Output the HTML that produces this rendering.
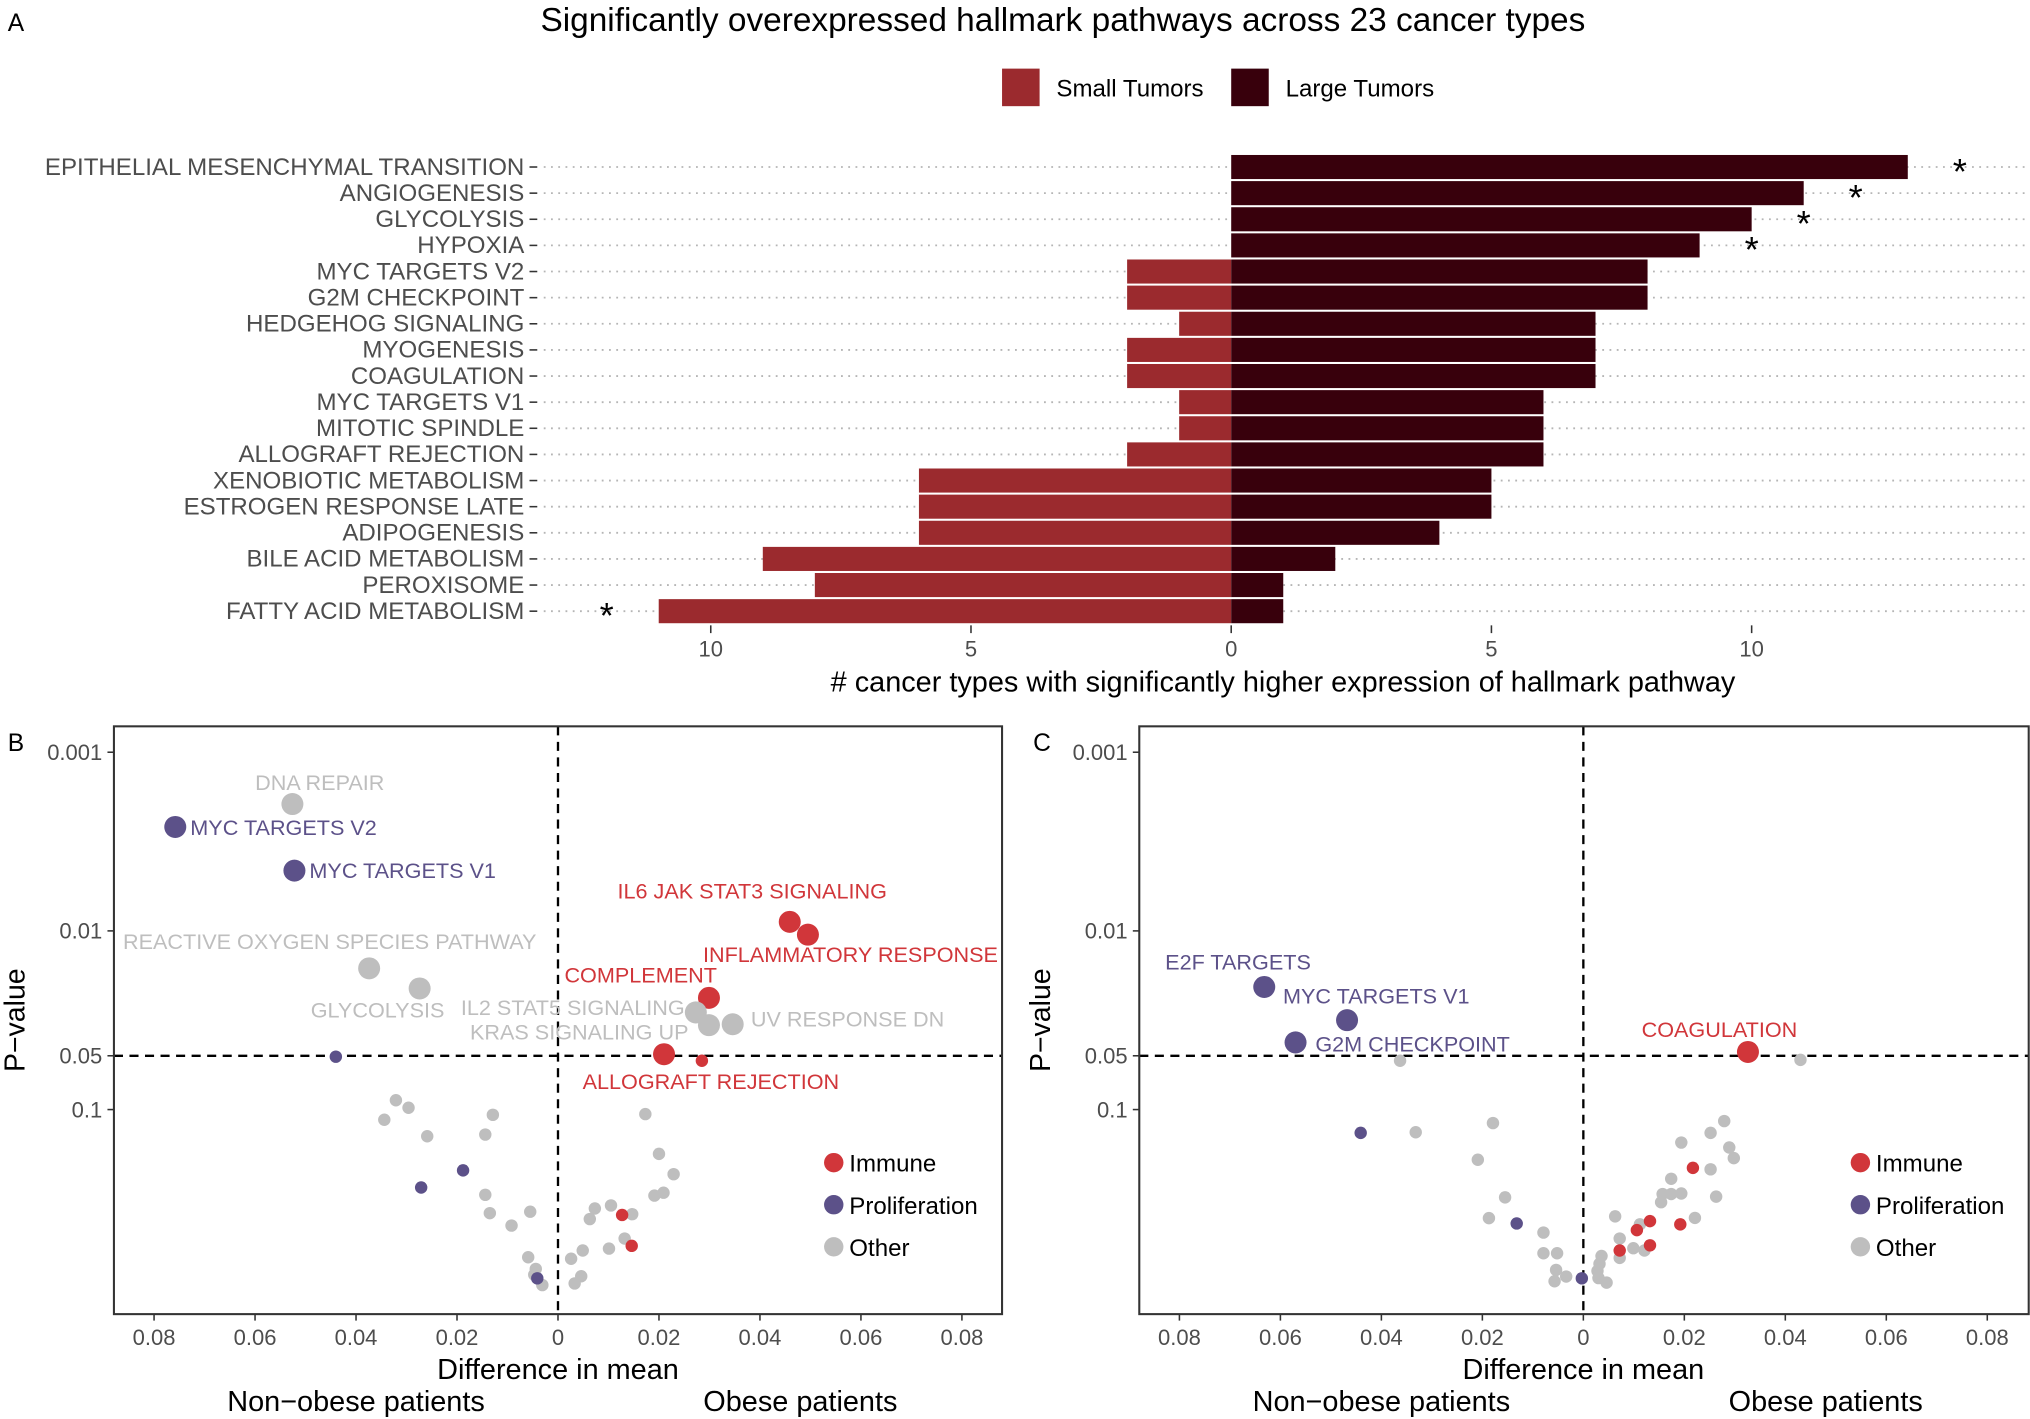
<!DOCTYPE html>
<html><head><meta charset="utf-8">
<style>
html,body{margin:0;padding:0;background:#fff;}
svg{display:block;font-family:"Liberation Sans",Arial,sans-serif;}
</style></head>
<body>
<svg id="fig" width="2030" height="1419" viewBox="0 0 1568 1096" preserveAspectRatio="none" xmlns="http://www.w3.org/2000/svg">
<rect x="0" y="0" width="1568" height="1096" fill="#fff"/>
<g id="panelA"></g>
<g id="panelB"></g>
<g id="panelC"></g>
</svg>
<script>
// ---------- Panel A data ----------
const pathways = ["EPITHELIAL MESENCHYMAL TRANSITION","ANGIOGENESIS","GLYCOLYSIS","HYPOXIA","MYC TARGETS V2","G2M CHECKPOINT","HEDGEHOG SIGNALING","MYOGENESIS","COAGULATION","MYC TARGETS V1","MITOTIC SPINDLE","ALLOGRAFT REJECTION","XENOBIOTIC METABOLISM","ESTROGEN RESPONSE LATE","ADIPOGENESIS","BILE ACID METABOLISM","PEROXISOME","FATTY ACID METABOLISM"];
const largeCounts = [13,11,10,9,8,8,7,7,7,6,6,6,5,5,4,2,1,1];
const smallCounts = [0,0,0,0,2,2,1,2,2,1,1,2,6,6,6,9,8,11];
const largeStars = [1,1,1,1,0,0,0,0,0,0,0,0,0,0,0,0,0,0];
const smallStars = [0,0,0,0,0,0,0,0,0,0,0,0,0,0,0,0,0,1];
const barTicks = [-10,-5,0,5,10];
const barTickLabels = ["10","5","0","5","10"];

// ---------- Panel B data ----------
const bNames = ["DNA REPAIR","MYC TARGETS V2","MYC TARGETS V1","REACTIVE OXYGEN SPECIES PATHWAY","GLYCOLYSIS","IL6 JAK STAT3 SIGNALING","INFLAMMATORY RESPONSE","COMPLEMENT","IL2 STAT5 SIGNALING","KRAS SIGNALING UP","UV RESPONSE DN","ALLOGRAFT REJECTION"];
const bDiff = [-0.0526,-0.0758,-0.0522,-0.0374,-0.0274,0.0459,0.0495,0.0299,0.0273,0.0299,0.0346,0.0210,
 -0.0440,0.0285,
 -0.0321,-0.0296,-0.0344,-0.0259,-0.0129,-0.0144,-0.0144,-0.0135,-0.0055,-0.0092,-0.0059,-0.0044,-0.0031,-0.0047,
 0.0173,0.0200,0.0229,0.0191,0.0209,0.0105,0.0073,0.0147,0.0063,0.0132,0.0101,0.0049,0.0026,0.0046,0.0033,
 -0.0188,-0.0271,-0.0041,0.0127,0.0146];
const bP = [0.00195,0.00262,0.0046,0.0162,0.021,0.0089,0.0105,0.0237,0.0286,0.0337,0.0333,0.049,
 0.0506,0.0533,
 0.0887,0.0977,0.114,0.141,0.107,0.138,0.300,0.380,0.373,0.446,0.671,0.78,0.96,0.84,
 0.106,0.177,0.230,0.303,0.292,0.344,0.358,0.385,0.41,0.527,0.60,0.615,0.684,0.857,0.94,
 0.219,0.273,0.88,0.389,0.579];
const bGroup = ["O","P","P","O","O","I","I","I","O","O","O","I",
 "P","I",
 "O","O","O","O","O","O","O","O","O","O","O","O","O","O",
 "O","O","O","O","O","O","O","O","O","O","O","O","O","O","O",
 "P","P","P","I","I"];

// ---------- Panel C data ----------
const cNames = ["E2F TARGETS","MYC TARGETS V1","G2M CHECKPOINT","COAGULATION"];
const cDiff = [-0.0632,-0.0468,-0.0570,0.0326,
 -0.0363,0.0430,-0.0332,-0.0179,-0.0209,-0.0155,-0.0187,-0.0079,-0.0079,-0.0052,-0.0054,-0.0034,-0.0057,
 0.0279,0.0252,0.0194,0.0289,0.0298,0.0252,0.0174,0.0157,0.0174,0.0194,0.0263,0.0154,0.0063,0.0221,0.0112,0.0072,0.0099,0.0121,0.0072,0.0036,0.0032,0.0028,0.0030,0.0046,
 -0.0441,-0.0132,-0.0003,
 0.0217,0.0132,0.0106,0.0192,0.0132,0.0072];
const cP = [0.0206,0.0316,0.0421,0.0476,
 0.0533,0.0527,0.134,0.119,0.191,0.310,0.405,0.488,0.637,0.637,0.79,0.86,0.914,
 0.116,0.135,0.153,0.163,0.187,0.216,0.244,0.297,0.297,0.295,0.307,0.330,0.396,0.404,0.439,0.527,0.597,0.615,0.676,0.66,0.73,0.80,0.877,0.93,
 0.135,0.434,0.88,
 0.212,0.421,0.473,0.439,0.575,0.615];
const cGroup = ["P","P","P","I",
 "O","O","O","O","O","O","O","O","O","O","O","O","O",
 "O","O","O","O","O","O","O","O","O","O","O","O","O","O","O","O","O","O","O","O","O","O","O","O",
 "P","P","P",
 "I","I","I","I","I","I"];

const xTicks = [-0.08,-0.06,-0.04,-0.02,0,0.02,0.04,0.06,0.08];
const xTickLabels = ["0.08","0.06","0.04","0.02","0","0.02","0.04","0.06","0.08"];
const pTicks = [0.001,0.01,0.05,0.1];
const pTickLabels = ["0.001","0.01","0.05","0.1"];
const legendGroups = ["I","P","O"];
const legendLabels = ["Immune","Proliferation","Other"];

const NS = "http://www.w3.org/2000/svg";
const COL = {I:"#d1363a",P:"#5c5189",O:"#bebebe"};
function mk(parent, tag, attrs, text){
  const e = document.createElementNS(NS, tag);
  for (const k in attrs) e.setAttribute(k, attrs[k]);
  if (text !== undefined) e.textContent = text;
  parent.appendChild(e);
  return e;
}

// ================= Panel A =================
(function(){
  const g = document.getElementById('panelA');
  const x0 = 951, unit = 40.2;
  const xA = v => x0 + v*unit;
  const rowY = i => 129 + i*20.18;
  const bh = 18.6;
  let t = mk(g,'text',{x:6,y:24,'font-size':19,fill:'#000'},'A');
   
  t = mk(g,'text',{x:821,y:24,'font-size':25.8,'text-anchor':'middle',fill:'#000'},'Significantly overexpressed hallmark pathways across 23 cancer types');
   
  // legend
  let r = mk(g,'rect',{x:774,y:53,width:29,height:29,fill:'#9b2a2e'});
   
  t = mk(g,'text',{x:816,y:74.5,'font-size':18.6,fill:'#000'},'Small Tumors');
   
  r = mk(g,'rect',{x:951,y:53,width:29,height:29,fill:'#38000c'});
   
  t = mk(g,'text',{x:993,y:74.5,'font-size':18.6,fill:'#000'},'Large Tumors');
   
  pathways.forEach((name,i)=>{
    const y = rowY(i);
    const ln = mk(g,'line',{x1:420,x2:1568,y1:y,y2:y,stroke:'#b5b5b5','stroke-width':1.4,'stroke-dasharray':'1.4 4.2'});
     
    const lab = mk(g,'text',{x:405,y:y+6,'font-size':18.6,'text-anchor':'end',fill:'#4d4d4d'},name);
     
    const tk = mk(g,'line',{x1:409,x2:415,y1:y,y2:y,stroke:'#333','stroke-width':1.2});
     
    if (smallCounts[i]>0){
      const b = mk(g,'rect',{x:xA(-smallCounts[i]),y:y-bh/2,width:xA(0)-xA(-smallCounts[i]),height:bh,fill:'#9b2a2e'});
       
    }
    if (largeCounts[i]>0){
      const b = mk(g,'rect',{x:xA(0),y:y-bh/2,width:xA(largeCounts[i])-xA(0),height:bh,fill:'#38000c'});
       
    }
    if (largeStars[i]){
      const s = mk(g,'text',{x:xA(largeCounts[i]+1),y:y+13,'font-size':28,'text-anchor':'middle',fill:'#000'},'*');
       
    }
    if (smallStars[i]){
      const s = mk(g,'text',{x:xA(-smallCounts[i]-1),y:y+13,'font-size':28,'text-anchor':'middle',fill:'#000'},'*');
       
    }
  });
  barTicks.forEach((v,i)=>{
    const tk = mk(g,'line',{x1:xA(v),x2:xA(v),y1:483,y2:489,stroke:'#333','stroke-width':1.2});
     
    const tl = mk(g,'text',{x:xA(v),y:507,'font-size':17,'text-anchor':'middle',fill:'#4d4d4d'},barTickLabels[i]);
     
  });
  t = mk(g,'text',{x:991,y:534,'font-size':22.3,'text-anchor':'middle',fill:'#000'},'# cancer types with significantly higher expression of hallmark pathway');
   
})();

// ================= Volcano panels =================
function volcano(gid, letter, box, zeroX, diffs, ps, groups, bigCount, labels, legendX){
  const g = document.getElementById(gid);
  const xS = v => zeroX + v*3900;
  const yS = p => 581 + (Math.log10(p)+3)*138;
  let t = mk(g,'text',{x:box.l-82,y:580,'font-size':19,fill:'#000'},letter);
   
  let l = mk(g,'line',{x1:xS(0),x2:xS(0),y1:box.t,y2:box.b,stroke:'#000','stroke-width':1.8,'stroke-dasharray':'7 5'});
   
  l = mk(g,'line',{x1:box.l,x2:box.r,y1:yS(0.05),y2:yS(0.05),stroke:'#000','stroke-width':1.8,'stroke-dasharray':'7 5'});
   
  for (let pass=0; pass<2; pass++){
    diffs.forEach((d,i)=>{
      const big = i < bigCount;
      if ((pass===1) !== big) return;
      const c = mk(g,'circle',{cx:xS(d),cy:yS(ps[i]),r:big?8.5:4.8,fill:COL[groups[i]]});
      
      
    });
  }
  labels.forEach(lb=>{
    const tx = mk(g,'text',{x:lb.x,y:lb.y+6,'font-size':16.7,'text-anchor':lb.a||'start',fill:COL[lb.g]},lb.t);
     
  });
  const fr = mk(g,'rect',{x:box.l,y:box.t,width:box.r-box.l,height:box.b-box.t,fill:'none',stroke:'#333','stroke-width':1.6});
   
  xTicks.forEach((v,i)=>{
    const tk = mk(g,'line',{x1:xS(v),x2:xS(v),y1:box.b,y2:box.b+5,stroke:'#333','stroke-width':1.2});
     
    const tl = mk(g,'text',{x:xS(v),y:box.b+24,'font-size':17,'text-anchor':'middle',fill:'#4d4d4d'},xTickLabels[i]);
     
  });
  pTicks.forEach((p,i)=>{
    const tk = mk(g,'line',{x1:box.l-5,x2:box.l,y1:yS(p),y2:yS(p),stroke:'#333','stroke-width':1.2});
     
    const tl = mk(g,'text',{x:box.l-9,y:yS(p)+6,'font-size':17,'text-anchor':'end',fill:'#4d4d4d'},pTickLabels[i]);
     
  });
  t = mk(g,'text',{x:xS(0),y:1065,'font-size':22.3,'text-anchor':'middle',fill:'#000'},'Difference in mean');
   
  t = mk(g,'text',{x:xS(-0.04),y:1090,'font-size':22.3,'text-anchor':'middle',fill:'#000'},'Non\u2212obese patients');
   
  t = mk(g,'text',{x:xS(0.048),y:1090,'font-size':22.3,'text-anchor':'middle',fill:'#000'},'Obese patients');
   
  t = mk(g,'text',{x:0,y:0,'font-size':22,'text-anchor':'middle',fill:'#000',transform:`translate(${box.l-69},788) rotate(-90)`},'P\u2212value');
   
  legendGroups.forEach((gr,i)=>{
    const y = 898 + i*32.5;
    const c = mk(g,'circle',{cx:legendX,cy:y,r:7.5,fill:COL[gr]});
     
    const tl = mk(g,'text',{x:legendX+12,y:y+7,'font-size':18.6,fill:'#000'},legendLabels[i]);
     
  });
}

volcano('panelB','B',{l:88,r:774,t:561,b:1015},431,bDiff,bP,bGroup,12,[
  {t:bNames[0],x:247,y:604,a:'middle',g:'O'},
  {t:bNames[1],x:147,y:639,g:'P'},
  {t:bNames[2],x:239,y:672,g:'P'},
  {t:bNames[3],x:95,y:727,g:'O'},
  {t:bNames[4],x:240,y:780,g:'O'},
  {t:bNames[5],x:581,y:688,a:'middle',g:'I'},
  {t:bNames[6],x:543,y:737,g:'I'},
  {t:bNames[7],x:436,y:753,g:'I'},
  {t:bNames[8],x:356,y:778,g:'O'},
  {t:bNames[9],x:363,y:797,g:'O'},
  {t:bNames[10],x:580,y:787,g:'O'},
  {t:bNames[11],x:450,y:835,g:'I'}
],644);

volcano('panelC','C',{l:880,r:1567,t:561,b:1015},1223,cDiff,cP,cGroup,4,[
  {t:cNames[0],x:900,y:743,g:'P'},
  {t:cNames[1],x:991,y:769,g:'P'},
  {t:cNames[2],x:1016,y:806,g:'P'},
  {t:cNames[3],x:1268,y:795,g:'I'}
],1437);
</script>
</body></html>
